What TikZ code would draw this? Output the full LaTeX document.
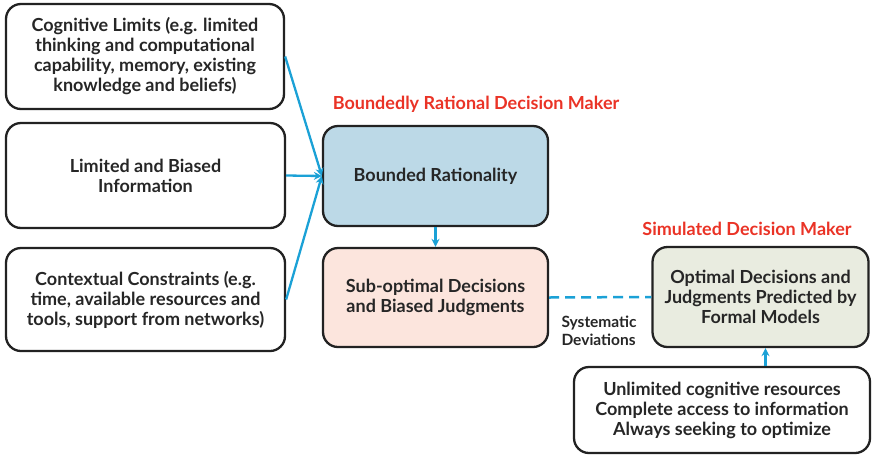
\documentclass[tikz,border=0pt]{standalone}
\usepackage{fontspec}
\setmainfont{Lato}
\usetikzlibrary{arrows.meta}
\definecolor{arrowblue}{HTML}{1BA1D6}
\definecolor{titlered}{HTML}{EA3326}
\definecolor{fillblue}{HTML}{BCD9E7}
\definecolor{fillpink}{HTML}{FCE5DD}
\definecolor{fillgreen}{HTML}{E9ECE0}
\definecolor{edge}{HTML}{222222}
\tikzset{
  box/.style={draw=edge, line width=2.3pt, rounded corners=15pt, align=center,
    font=\fontsize{18}{20}\selectfont\bfseries, text=black!85, inner sep=0pt},
  conn/.style={draw=arrowblue, line width=2.3pt, -{Stealth[length=8pt,width=8pt]}},
  dashconn/.style={draw=arrowblue, line width=2.5pt, dash pattern=on 10pt off 6pt},
  ttl/.style={text=titlered, font=\fontsize{18}{20}\selectfont\bfseries},
  note/.style={font=\fontsize{15.5}{18}\selectfont\bfseries, text=black!85, align=left}
}
\begin{document}
\begin{tikzpicture}[x=1pt,y=-1pt]
\useasboundingbox (0,0) rectangle (876,456);
\node[box, minimum width=278pt, minimum height=105pt] (b1) at (145,56.5)
  {Cognitive Limits (e.g. limited\\thinking and computational\\capability, memory, existing\\knowledge and beliefs)};
\node[box, minimum width=279pt, minimum height=105pt] (b2) at (145.5,175.5)
  {Limited and Biased\\Information};
\node[box, minimum width=279pt, minimum height=103pt] (b3) at (145.5,299.5)
  {Contextual Constraints (e.g.\\time, available resources and\\tools, support from networks)};
\node[box, fill=fillblue, minimum width=225pt, minimum height=100pt] (br) at (435.5,176)
  {Bounded Rationality};
\node[box, fill=fillpink, minimum width=225pt, minimum height=99pt] (so) at (435.5,297.5)
  {Sub-optimal Decisions\\and Biased Judgments};
\node[box, fill=fillgreen, minimum width=216pt, minimum height=100pt] (opt) at (760.5,297)
  {Optimal Decisions and\\Judgments Predicted by\\Formal Models};
\node[box, minimum width=296pt, minimum height=86pt] (unl) at (722,410)
  {Unlimited cognitive resources\\Complete access to information\\Always seeking to optimize};
\node[ttl] (t1) at (476,104) {Boundedly Rational Decision Maker};
\node[ttl] (t2) at (747,229) {Simulated Decision Maker};
\node[note, anchor=west] (sd) at (558,331) {Systematic\\Deviations};
\draw[conn] (b1.east) -- (br.west);
\draw[conn] (b2.east) -- (br.west);
\draw[conn] (b3.east) -- (br.west);
\draw[conn] (br.south) -- (so.north);
\draw[conn] (unl.north -| opt.south) ++(5,0) coordinate (u0) -- (u0 |- opt.south);
\draw[dashconn] (so.east) -- (opt.west);
\end{tikzpicture}
\end{document}
